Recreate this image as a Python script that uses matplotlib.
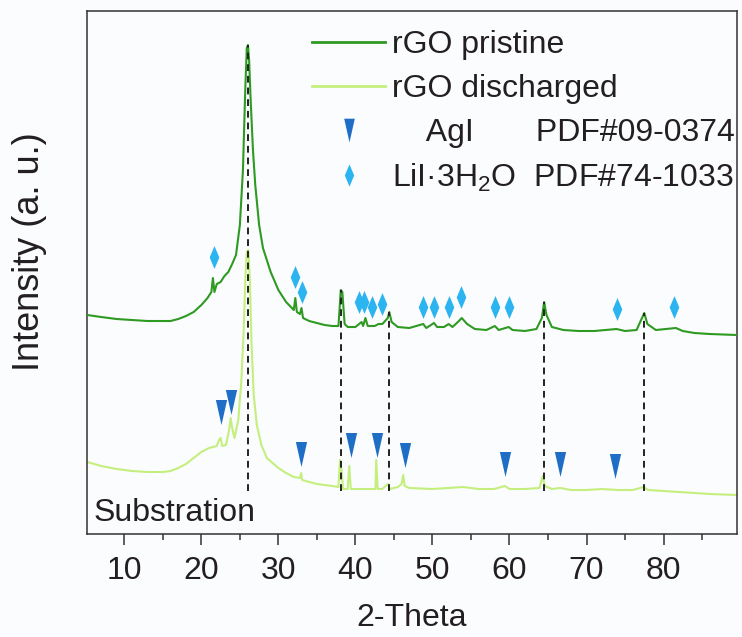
import numpy as np
import matplotlib
matplotlib.use("Agg")
import matplotlib.pyplot as plt
from matplotlib.path import Path
from matplotlib.lines import Line2D

plt.rcParams['font.family'] = ['Liberation Sans', 'DejaVu Sans']
plt.rcParams['mathtext.fontset'] = 'custom'
plt.rcParams['mathtext.rm'] = 'Liberation Sans'
plt.rcParams['mathtext.it'] = 'Liberation Sans:italic'

# --- data (intensity in arbitrary units) ---
pristine_x = [5.2, 7, 9, 11, 13, 15, 16, 17, 18, 19, 20, 20.8, 21.3, 21.5, 21.7, 22, 22.5, 23, 23.5, 24,
              24.5, 25, 25.4, 25.7, 25.9, 26.05, 26.2, 26.4, 26.7, 27, 27.5, 28, 29, 30, 31, 32, 32.2,
              32.4, 32.8, 33.0, 33.2, 34, 35, 36, 37, 37.8, 38.1, 38.3, 38.6, 39, 40, 40.8, 41.0, 41.3,
              41.6, 42.5, 43, 43.5, 44.2, 44.4, 44.7, 45.5, 47, 48.8, 49.2, 50.2, 50.6, 51.5, 52.1, 52.6,
              53.3, 53.8, 54.5, 55.5, 57, 58.1, 58.6, 59.9, 60.4, 62, 63.5, 64.2, 64.5, 64.8, 65.5, 67,
              69, 71, 73.9, 75, 76.5, 77.2, 77.5, 77.9, 79, 81.6, 82.5, 84, 86, 89.5]
pristine_y = [219, 217, 215, 214, 213, 213, 213, 215, 218, 222, 229, 236, 242, 256, 242, 250, 252, 258, 262, 270,
              279, 309, 364, 444, 486, 489, 474, 434, 384, 349, 309, 286, 262, 244, 232, 224, 236,
              222, 220, 226, 216, 213, 211, 209, 208, 208, 244, 242, 210, 207, 207, 212, 208, 216,
              208, 208, 210, 210, 216, 222, 212, 207, 206, 210, 206, 211, 207, 207, 210, 207,
              212, 216, 210, 205, 204, 208, 204, 207, 204, 203, 205, 216, 232, 219, 207, 204,
              203, 203, 205, 203, 204, 216, 221, 210, 204, 206, 203, 201, 200, 199]

discharged_x = [5.2, 7, 9, 11, 13, 15, 16, 17, 18, 19, 20, 21, 22, 22.3, 22.5, 22.7, 23.2, 23.6, 23.8, 24.0,
                24.3, 24.8, 25.2, 25.5, 25.7, 25.9, 26.1, 26.3, 26.5, 26.8, 27.2, 27.8, 28.5, 30, 31, 32,
                32.8, 32.95, 33.1, 34, 35, 36, 37, 37.8, 38.0, 38.2, 38.4, 39.0, 39.2, 39.4, 40.5, 42,
                42.6, 42.7, 42.9, 43.5, 44.2, 44.5, 45.5, 46.0, 46.2, 46.4, 47, 50, 52, 54, 56, 58, 59.4,
                60, 62, 63.9, 64.3, 64.6, 65.5, 66.6, 68, 70, 72, 74, 76, 77.4, 78, 80, 82, 84, 86, 89.5]
discharged_y = [72, 68, 65, 63, 62, 62, 63, 66, 70, 76, 82, 86, 88, 94, 96, 88, 89, 104, 116, 106,
                96, 114, 154, 204, 254, 282, 284, 254, 194, 139, 109, 89, 76, 66, 61, 57,
                56, 61, 54, 52, 50, 49, 48, 47, 74, 64, 45, 45, 68, 45, 45, 45,
                45, 74, 45, 45, 50, 45, 47, 50, 59, 48, 46, 45, 46, 47, 45, 45, 48,
                45, 45, 46, 58, 48, 45, 46, 44, 44, 45, 44, 44, 47, 44, 43, 42, 41, 40, 39]

# reference lines (peak positions shared by both patterns)
ref_x = [26.05, 38.1, 44.4, 64.5, 77.5]
ref_bottom = 43

# AgI PDF#09-0374 markers
agi_x = [22.5, 23.9, 33.0, 39.4, 42.8, 46.4, 59.4, 66.5, 73.7]
agi_y = [122, 132, 80, 89, 89, 79, 70, 70, 68]

# LiI.3H2O PDF#74-1033 markers
lii_x = [21.6, 32.2, 33.1, 40.5, 41.1, 42.1, 43.4, 48.8, 50.2, 52.1, 53.7, 58.1, 59.9, 73.9, 81.4]
lii_y = [277, 257, 242, 232, 232, 227, 230, 227, 227, 227, 237, 227, 227, 225, 227]

dark_green = '#2e9a22'
light_green = '#c4ef7e'
tri_color = '#1f6ec6'
dia_color = '#2bb4f0'
text_color = '#231f20'

tri = Path([(-0.45, 1), (0.45, 1), (0, -1), (-0.45, 1)], closed=True)
dia = Path([(0, 1), (0.42, 0), (0, -1), (-0.42, 0), (0, 1)], closed=True)

fig = plt.figure(figsize=(7.42, 6.37), dpi=100)
fig.patch.set_facecolor('#fbfcfe')
ax = fig.add_axes([0.1177, 0.1617, 0.8752, 0.8210])
ax.set_facecolor('#fbfcfe')

ax.plot(discharged_x, discharged_y, color=light_green, lw=1.5, zorder=2)
ax.plot(pristine_x, pristine_y, color=dark_green, lw=1.5, zorder=3)

for xr in ref_x:
    top = np.interp(xr, pristine_x, pristine_y)
    ax.plot([xr, xr], [ref_bottom, top], color='#222222', lw=1.4, ls=(0, (3.5, 2.5)), zorder=4)

ax.plot(agi_x, agi_y, ls='none', marker=tri, ms=18, color=tri_color, mec='none', zorder=5)
ax.plot(lii_x, lii_y, ls='none', marker=dia, ms=16.5, color=dia_color, mec='none', zorder=5)

ax.set_xlim(5.2, 89.5)
ax.set_ylim(0, 523)
ax.set_xticks(range(10, 90, 10))
ax.set_xticks(range(15, 90, 10), minor=True)
ax.set_yticks([])
ax.tick_params(axis='x', which='major', direction='out', length=8, width=1.1, labelsize=23,
               pad=8, colors='#333333', labelcolor=text_color)
ax.tick_params(axis='x', which='minor', direction='out', length=4.5, width=1.1, colors='#333333')
for s in ax.spines.values():
    s.set_color('#333333')
    s.set_linewidth(1.1)

ax.set_xlabel('2-Theta', fontsize=23, color=text_color, labelpad=12)
ax.set_ylabel('Intensity (a. u.)', fontsize=26, color=text_color)
ax.yaxis.set_label_coords(-0.062, 0.54)

ax.text(0.009, 0.025, 'Substration', transform=ax.transAxes, fontsize=23,
        color=text_color, va='baseline', ha='left')

handles = [
    Line2D([], [], color=dark_green, lw=2),
    Line2D([], [], color=light_green, lw=2),
    Line2D([], [], ls='none', marker=tri, ms=17, color=tri_color, mec='none'),
    Line2D([], [], ls='none', marker=dia, ms=16, color=dia_color, mec='none'),
]
labels = ['rGO pristine', 'rGO discharged',
          '    AgI       PDF#09-0374',
          'LiI\u00b73H$_2$O  PDF#74-1033']
leg = ax.legend(handles, labels, loc='upper left', bbox_to_anchor=(0.3456, 0.963),
                frameon=False, fontsize=23, handlelength=2.3, handletextpad=0.22,
                labelspacing=0.43, borderpad=0, borderaxespad=0)
for t in leg.get_texts():
    t.set_color(text_color)

fig.savefig('out.png', dpi=100, facecolor=fig.get_facecolor())
